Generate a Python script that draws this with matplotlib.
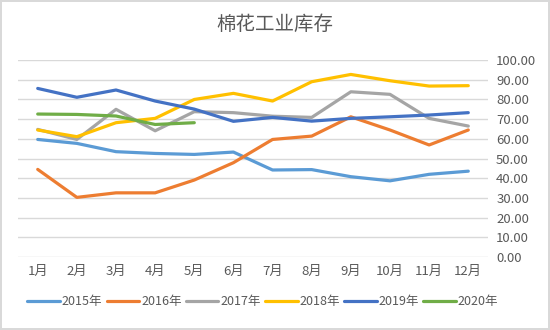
import matplotlib
matplotlib.use("Agg")
import matplotlib.pyplot as plt

plt.rcParams['font.family'] = ['Noto Sans CJK SC', 'DejaVu Sans']

months = ["1月", "2月", "3月", "4月", "5月", "6月", "7月", "8月", "9月", "10月", "11月", "12月"]
y2015 = [59.7, 57.7, 53.5, 52.6, 52.1, 53.3, 44.2, 44.4, 40.8, 38.7, 42.0, 43.6]
y2016 = [44.5, 30.3, 32.6, 32.6, 39.1, 47.9, 59.7, 61.4, 71.2, 64.5, 56.9, 64.5]
y2017 = [64.8, 59.7, 75.0, 64.1, 73.8, 73.3, 71.5, 70.9, 83.9, 82.6, 70.4, 66.5]
y2018 = [64.5, 61.1, 68.2, 70.4, 80.0, 83.1, 79.2, 89.0, 92.7, 89.5, 86.8, 87.0]
y2019 = [85.6, 81.1, 84.8, 79.2, 75.1, 68.9, 70.9, 69.0, 70.4, 71.2, 72.1, 73.3]
y2020 = [72.6, 72.4, 71.6, 67.3, 68.2]

series = [("2015年", y2015, "#5B9BD5"),
          ("2016年", y2016, "#ED7D31"),
          ("2017年", y2017, "#A5A5A5"),
          ("2018年", y2018, "#FFC000"),
          ("2019年", y2019, "#4472C4"),
          ("2020年", y2020, "#70AD47")]

fig = plt.figure(figsize=(5.5, 3.3), dpi=100)
fig.patch.set_edgecolor("#d9d9d9")
fig.patch.set_linewidth(1.5)
ax = fig.add_axes([0.033, 0.221, 0.854, 0.597])

for name, vals, col in series:
    ax.plot(range(len(vals)), vals, color=col, linewidth=2.3, label=name,
            solid_capstyle="round", solid_joinstyle="round")

ax.set_xlim(-0.5, 11.5)
ax.set_ylim(0, 100)
ax.set_xticks(range(12))
ax.set_xticklabels(months)
ax.set_yticks(range(0, 101, 10))
ax.set_yticklabels(["%.2f" % v for v in range(0, 101, 10)])
ax.yaxis.tick_right()
ax.tick_params(length=0, labelsize=9.5, colors="#595959", pad=6)
ax.grid(axis="y", color="#d9d9d9", linewidth=1)
ax.set_axisbelow(True)
for s in ax.spines.values():
    s.set_visible(False)

fig.text(0.5, 0.925, "棉花工业库存", ha="center", va="center", fontsize=14, color="#595959")
fig.legend(loc="center", bbox_to_anchor=(0.478, 0.085), ncol=6, frameon=False,
           fontsize=9, handlelength=2.6, handletextpad=0.15, columnspacing=0.35,
           labelcolor="#595959")

fig.savefig("out.png", dpi=100, edgecolor=fig.get_edgecolor())
